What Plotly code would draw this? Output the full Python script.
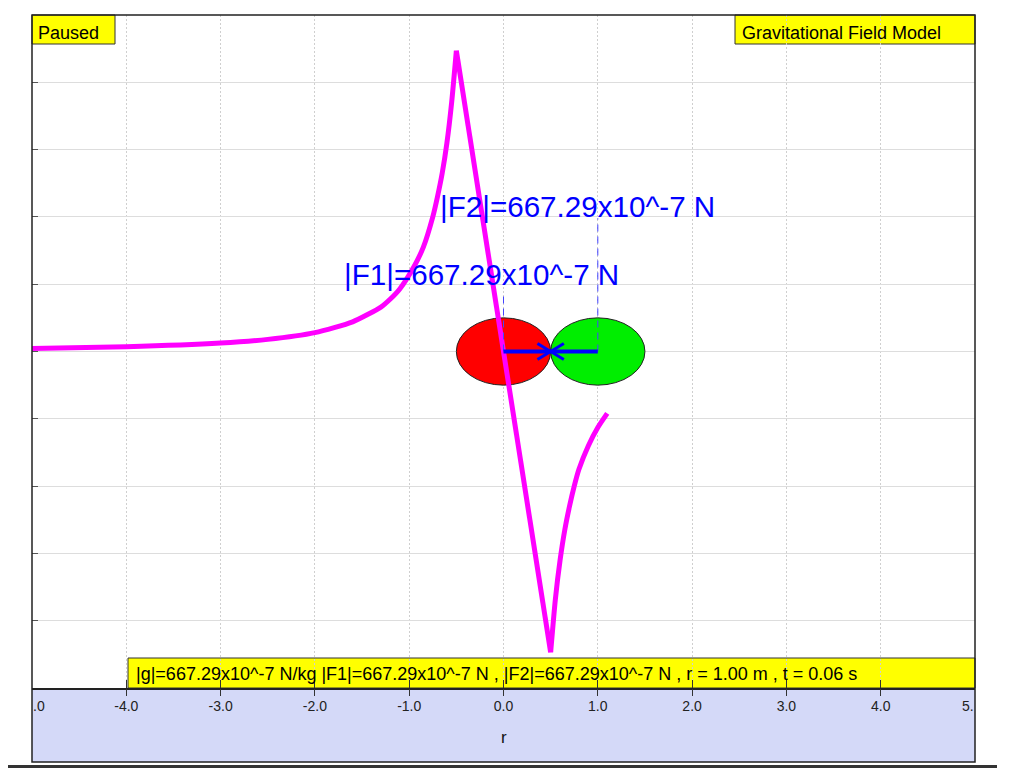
import plotly.graph_objects as go

# ---- data ----
curve_x = [-5.0, -4.0, -3.0, -2.5, -2.0, -1.6, -1.3, -1.2, -1.1, -0.95, -0.85, -0.75, -0.7,
           -0.65, -0.6, -0.55, -0.5, 0.5, 0.55, 0.6, 0.65, 0.7, 0.75, 0.8, 0.9, 1.0, 1.1]
curve_y = [0.045, 0.07, 0.125, 0.18, 0.28, 0.44, 0.66, 0.78, 0.93, 1.26, 1.55, 2.0, 2.3,
           2.65, 3.1, 3.7, 4.47, -4.47, -3.68, -3.1, -2.65, -2.3, -2.0, -1.75, -1.4, -1.13, -0.92]

mass_x = [0.0, 1.0]
mass_y = [0.0, 0.0]
mass_r = 0.5
mass_colors = ["#ff0000", "#00ee00"]
force_len = [0.5, 0.5]
dash_top = [0.89, 1.98]
force_labels = ["|F1|=667.29x10^-7 N", "|F2|=667.29x10^-7 N"]
label_x = [-1.71, -0.69]
label_y = [1.14, 2.15]

tick_vals = [-4, -3, -2, -1, 0, 1, 2, 3, 4]
tick_text = ["-4.0", "-3.0", "-2.0", "-1.0", "0.0", "1.0", "2.0", "3.0", "4.0"]
y_grid = [-4, -3, -2, -1, 0, 1, 2, 3, 4]

status_text = "Paused"
title_text = "Gravitational Field Model"
info_text = ("|g|=667.29x10^-7 N/kg |F1|=667.29x10^-7 N , |F2|=667.29x10^-7 N , "
             "r = 1.00 m , t = 0.06 s")
axis_title = "r"

FONT = "Liberation Sans, Arial, sans-serif"
BLUE = "#0000ff"
MAG = "#ff00ff"
HEAD_L = 0.14
HEAD_W = 0.12

fig = go.Figure()

# field curve: outer branches smooth, inner segment straight
peak_i = curve_x.index(-0.5)
trough_i = curve_x.index(0.5)
fig.add_trace(go.Scatter(x=curve_x[:peak_i + 1], y=curve_y[:peak_i + 1], mode="lines",
                         line=dict(color=MAG, width=5, shape="spline", smoothing=0.6),
                         hoverinfo="skip", showlegend=False))
fig.add_trace(go.Scatter(x=curve_x[peak_i:trough_i + 1], y=curve_y[peak_i:trough_i + 1],
                         mode="lines", line=dict(color=MAG, width=5),
                         hoverinfo="skip", showlegend=False))
fig.add_trace(go.Scatter(x=curve_x[trough_i:], y=curve_y[trough_i:], mode="lines",
                         line=dict(color=MAG, width=5, shape="spline", smoothing=0.6),
                         hoverinfo="skip", showlegend=False))

shapes = []
# masses
for mx, my, c in zip(mass_x, mass_y, mass_colors):
    shapes.append(dict(type="circle", xref="x", yref="y",
                       x0=mx - mass_r, x1=mx + mass_r, y0=my - mass_r, y1=my + mass_r,
                       fillcolor=c, line=dict(color="#222222", width=1), layer="between"))

# dashed markers, force arrows
for i, (mx, my) in enumerate(zip(mass_x, mass_y)):
    other = mass_x[1 - i]
    d = 1 if other > mx else -1
    tip = mx + d * force_len[i]
    fig.add_trace(go.Scatter(x=[mx, mx], y=[my, dash_top[i]], mode="lines",
                             line=dict(color="#4444ff", width=1, dash="7px,5px"),
                             hoverinfo="skip", showlegend=False))
    fig.add_trace(go.Scatter(x=[mx, tip], y=[my, my], mode="lines",
                             line=dict(color=BLUE, width=4), hoverinfo="skip",
                             showlegend=False))
    fig.add_trace(go.Scatter(x=[tip - d * HEAD_L, tip, tip - d * HEAD_L],
                             y=[my + HEAD_W, my, my - HEAD_W], mode="lines",
                             line=dict(color=BLUE, width=3), hoverinfo="skip",
                             showlegend=False))

# invisible traces for tick overlay axes
for ax in ("x2", "x3"):
    fig.add_trace(go.Scatter(x=[0], y=[0], xaxis=ax, mode="markers",
                             marker=dict(opacity=0), hoverinfo="skip", showlegend=False))

# page has 8px body margin -> figure is offset by 8px
OFF = 8
PL, PT, PW, PH = 32, 15, 943, 673
px = lambda v: (v - PL) / PW
py = lambda v: (PT + PH - v) / PH

bottom = py(762)
shapes.append(dict(type="rect", xref="paper", yref="paper", x0=0, x1=1, y0=bottom, y1=0,
                   fillcolor="#d4d9f8", line=dict(width=0), layer="below"))

def ybox(x0, x1, y0, y1):
    shapes.append(dict(type="rect", xref="paper", yref="paper", x0=x0, x1=x1, y0=y0, y1=y1,
                       fillcolor="#ffff00", line=dict(color="#333333", width=1),
                       layer="between"))

ybox(px(32), px(115), py(44), py(15))
ybox(px(735), px(975), py(44), py(15))
ybox(px(128), px(975), py(688), py(658))
# frame
shapes.append(dict(type="rect", xref="paper", yref="paper", x0=0, x1=1, y0=bottom, y1=1,
                   line=dict(color="#222222", width=1.5), layer="above"))
# bottom window edge
shapes.append(dict(type="line", xref="paper", yref="paper", x0=px(OFF), x1=px(997),
                   y0=py(766.5), y1=py(766.5), line=dict(color="#333333", width=3),
                   layer="above"))

annotations = []
for t, lx, ly in zip(force_labels, label_x, label_y):
    annotations.append(dict(text=t, x=lx, y=ly, xref="x", yref="y", xanchor="left",
                            yanchor="middle", showarrow=False,
                            font=dict(family=FONT, size=29.6, color=BLUE)))
annotations.append(dict(text=status_text, x=px(36), y=py(32.5), xref="paper", yref="paper",
                        xanchor="left", yanchor="middle", showarrow=False,
                        font=dict(family=FONT, size=18, color="#000000")))
annotations.append(dict(text=title_text, x=px(740), y=py(32.5), xref="paper", yref="paper",
                        xanchor="left", yanchor="middle", showarrow=False,
                        font=dict(family=FONT, size=18, color="#000000")))
annotations.append(dict(text=info_text, x=px(134), y=py(674), xref="paper", yref="paper",
                        xanchor="left", yanchor="middle", showarrow=False,
                        font=dict(family=FONT, size=18, color="#000000")))
annotations.append(dict(text=axis_title, x=0.5, y=py(737), xref="paper", yref="paper",
                        xanchor="center", yanchor="middle", showarrow=False,
                        font=dict(family=FONT, size=17, color="#111111")))
annotations.append(dict(text=".0", x=0, y=py(706.5), xref="paper", yref="paper",
                        xanchor="left", yanchor="middle", showarrow=False, borderpad=0,
                        font=dict(family=FONT, size=14, color="#222222")))
annotations.append(dict(text="5.", x=1, y=py(706.5), xref="paper", yref="paper",
                        xanchor="right", yanchor="middle", showarrow=False, borderpad=0,
                        font=dict(family=FONT, size=14, color="#222222")))

W, H = 1024 - OFF, 768 - OFF
tick_overlay = dict(range=[-5, 5], overlaying="x", side="bottom", anchor="y",
                    tickvals=tick_vals, tickcolor="#333333", showticklabels=False,
                    showgrid=False, zeroline=False, showline=False)
fig.update_layout(
    width=W, height=H,
    margin=dict(l=PL - OFF, r=W - (PL - OFF) - PW, t=PT - OFF, b=H - (PT - OFF) - PH,
                autoexpand=False),
    paper_bgcolor="#ffffff", plot_bgcolor="#ffffff",
    showlegend=False,
    shapes=shapes, annotations=annotations,
    xaxis=dict(range=[-5, 5], tickvals=tick_vals, ticktext=tick_text,
               ticks="outside", ticklen=4, tickcolor="#333333", tickwidth=1,
               tickfont=dict(family=FONT, size=14, color="#222222"),
               showgrid=True, gridcolor="#cfcfcf", griddash="2px,2px", gridwidth=1,
               zeroline=False, showline=True, linecolor="#222222", linewidth=1.5,
               fixedrange=True),
    xaxis2=dict(tick_overlay, ticks="inside", ticklen=8),
    xaxis3=dict(tick_overlay, ticks="outside", ticklen=7),
    yaxis=dict(range=[-5, 5], tickvals=y_grid, ticks="inside", ticklen=6,
               tickcolor="#555555", showticklabels=False, showgrid=True,
               gridcolor="#dddddd", gridwidth=1, zeroline=False, showline=False,
               fixedrange=True),
)

fig.write_html("out.html")
